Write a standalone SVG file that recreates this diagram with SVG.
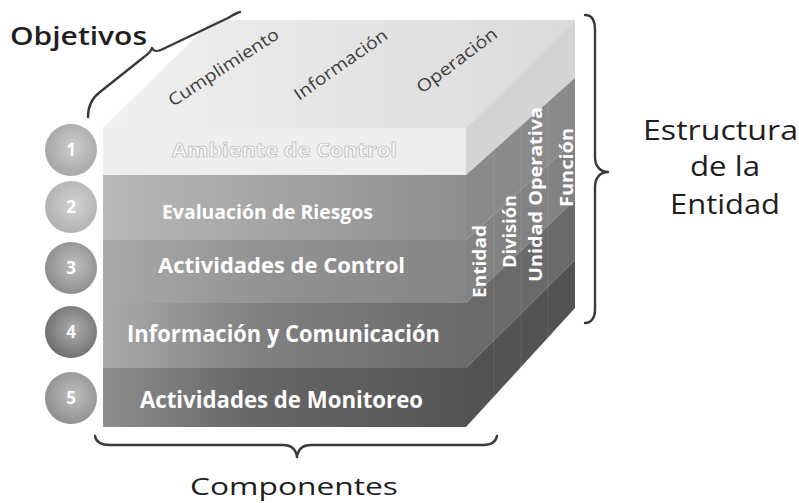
<svg xmlns="http://www.w3.org/2000/svg" width="799" height="503" viewBox="0 0 799 503">
<defs>
<style>
.lbl{font-family:"Open Sans","Liberation Sans",sans-serif;fill:#1e1e1e;font-weight:600}
.obj{font-family:"Open Sans","Liberation Sans",sans-serif;fill:#3c3c3c;font-size:17px}
.row{font-family:"Open Sans","Liberation Sans",sans-serif;fill:#ffffff;font-weight:700}
.side{font-family:"Open Sans","Liberation Sans",sans-serif;fill:#ffffff;font-weight:700;font-size:17px}
.num{font-family:"Open Sans","Liberation Sans",sans-serif;fill:#ffffff;font-weight:700;font-size:17px;text-anchor:middle}
.brace{fill:none;stroke:#3a3a3a;stroke-width:2.4;stroke-linecap:round;stroke-linejoin:round}
.slice{stroke:#ffffff;stroke-opacity:0.1;stroke-width:1}
</style>
<linearGradient id="gTop" x1="0" y1="0" x2="1" y2="0"><stop offset="0" stop-color="#f0f0f0"/><stop offset="1" stop-color="#dadada"/></linearGradient>
<linearGradient id="g2" x1="0" y1="0" x2="1" y2="0"><stop offset="0" stop-color="#b8b8b8"/><stop offset="1" stop-color="#8e8e8e"/></linearGradient>
<linearGradient id="g3" x1="0" y1="0" x2="1" y2="0"><stop offset="0" stop-color="#a9a9a9"/><stop offset="0.5" stop-color="#909090"/><stop offset="1" stop-color="#868686"/></linearGradient>
<linearGradient id="g4" x1="0" y1="0" x2="1" y2="0"><stop offset="0" stop-color="#aaaaaa"/><stop offset="0.4" stop-color="#828282"/><stop offset="1" stop-color="#6a6a6a"/></linearGradient>
<linearGradient id="g5" x1="0" y1="0" x2="1" y2="0"><stop offset="0" stop-color="#8e8e8e"/><stop offset="0.4" stop-color="#676767"/><stop offset="1" stop-color="#555555"/></linearGradient>
<radialGradient id="shine" cx="0.55" cy="0.45" r="0.6"><stop offset="0" stop-color="#ffffff" stop-opacity="0.45"/><stop offset="1" stop-color="#ffffff" stop-opacity="0"/></radialGradient>
</defs>
<rect width="799" height="503" fill="#ffffff"/>

<g id="top-face">
<polygon points="103,128 466,128 575,20 213,20" fill="url(#gTop)"/>
</g>

<g id="row1">
<rect x="103" y="128" width="363" height="47" fill="#eeeeee"/>
<polygon points="466,128 575,20 575,78 466,175" fill="#d4d4d4"/>
<text class="row" x="172" y="157" font-size="19" textLength="225" lengthAdjust="spacingAndGlyphs" style="fill:#f8f8f8;stroke:#b0b0b0;stroke-width:0.6">Ambiente de Control</text>
</g>
<g id="row2">
<rect x="103" y="175" width="363" height="65" fill="url(#g2)"/>
<polygon points="466,175 575,78 575,140 466,240" fill="#8a8a8a"/>
<text class="row" x="162" y="219" font-size="20" textLength="211" lengthAdjust="spacingAndGlyphs">Evaluación de Riesgos</text>
</g>
<g id="row3">
<rect x="103" y="240" width="363" height="63" fill="url(#g3)"/>
<polygon points="466,240 575,140 575,200 466,303" fill="#828282"/>
<text class="row" x="158" y="273" font-size="21" textLength="247" lengthAdjust="spacingAndGlyphs">Actividades de Control</text>
</g>
<g id="row4">
<rect x="103" y="303" width="363" height="65" fill="url(#g4)"/>
<polygon points="466,303 575,200 575,260 466,368" fill="#6a6a6a"/>
<text class="row" x="127" y="342" font-size="23" textLength="313" lengthAdjust="spacingAndGlyphs">Información y Comunicación</text>
</g>
<g id="row5">
<rect x="103" y="368" width="363" height="59" fill="url(#g5)"/>
<polygon points="466,368 575,260 575,308 466,427" fill="#535353"/>
<text class="row" x="140" y="408" font-size="23" textLength="283" lengthAdjust="spacingAndGlyphs">Actividades de Monitoreo</text>
</g>

<g id="slices">
<line class="slice" x1="494" y1="150" x2="494" y2="396"/>
<line class="slice" x1="521" y1="126" x2="521" y2="367"/>
<line class="slice" x1="548" y1="102" x2="548" y2="337"/>
</g>

<g id="entity-labels">
<text class="side" transform="translate(486,261.5) rotate(-90)" text-anchor="middle" textLength="73" lengthAdjust="spacingAndGlyphs">Entidad</text>
<text class="side" transform="translate(516,231.5) rotate(-90)" text-anchor="middle" textLength="73" lengthAdjust="spacingAndGlyphs">División</text>
<text class="side" transform="translate(542,194.5) rotate(-90)" text-anchor="middle" textLength="175" lengthAdjust="spacingAndGlyphs">Unidad Operativa</text>
<text class="side" transform="translate(573,167.5) rotate(-90)" text-anchor="middle" textLength="79" lengthAdjust="spacingAndGlyphs">Función</text>
</g>

<g id="objective-labels">
<text class="obj" transform="translate(173,107) rotate(-33)" textLength="128" lengthAdjust="spacingAndGlyphs">Cumplimiento</text>
<text class="obj" transform="translate(299,101) rotate(-35)" textLength="110" lengthAdjust="spacingAndGlyphs">Información</text>
<text class="obj" transform="translate(422,94) rotate(-37)" textLength="96" lengthAdjust="spacingAndGlyphs">Operación</text>
</g>

<g id="circle1"><circle cx="71" cy="150" r="26" fill="#a4a4a4"/><circle cx="71" cy="150" r="26" fill="url(#shine)"/><text class="num" x="71" y="156">1</text></g>
<g id="circle2"><circle cx="71" cy="207" r="26" fill="#afafaf"/><circle cx="71" cy="207" r="26" fill="url(#shine)"/><text class="num" x="71" y="213">2</text></g>
<g id="circle3"><circle cx="71" cy="268" r="26" fill="#8a8a8a"/><circle cx="71" cy="268" r="26" fill="url(#shine)"/><text class="num" x="71" y="274">3</text></g>
<g id="circle4"><circle cx="71" cy="332" r="26" fill="#6c6c6c"/><circle cx="71" cy="332" r="26" fill="url(#shine)"/><text class="num" x="71" y="338">4</text></g>
<g id="circle5"><circle cx="71" cy="398" r="26" fill="#8c8c8c"/><circle cx="71" cy="398" r="26" fill="url(#shine)"/><text class="num" x="71" y="404">5</text></g>

<g id="braces">
<path class="brace" d="M88,117 C88,105 92,98 100,92 L144,57 C148,54 151,52 152,48 C154,52 157,52 163,49 L228,18 C233,15 236,13 240,12"/>
<path class="brace" d="M585,15 C592,15 595,20 595,30 L595,157 C595,166 600,172 608,172 C600,172 595,178 595,187 L595,310 C595,318 591,323 585,323"/>
<path class="brace" d="M95,436 C96,442 100,445 110,445 L283,445 C292,445 296,450 297,457 C298,450 302,445 311,445 L483,445 C492,445 496,441 497,436"/>
</g>

<g id="titles">
<text class="lbl" x="10" y="45" font-size="25" textLength="137" lengthAdjust="spacingAndGlyphs">Objetivos</text>
<text class="lbl" x="643" y="140" font-size="28" textLength="155" lengthAdjust="spacingAndGlyphs" style="font-weight:500">Estructura</text>
<text class="lbl" x="690" y="176" font-size="28" textLength="70" lengthAdjust="spacingAndGlyphs" style="font-weight:500">de la</text>
<text class="lbl" x="670" y="214" font-size="28" textLength="110" lengthAdjust="spacingAndGlyphs" style="font-weight:500">Entidad</text>
<text class="lbl" x="190" y="495" font-size="24" textLength="208" lengthAdjust="spacingAndGlyphs" style="font-weight:500">Componentes</text>
</g>
</svg>
